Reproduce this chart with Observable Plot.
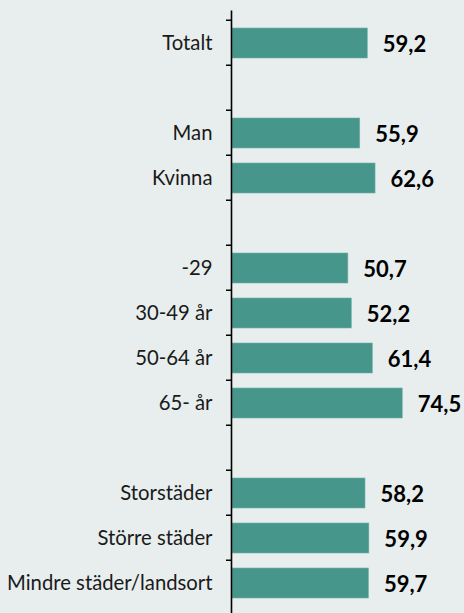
<!DOCTYPE html>
<html>
<head>
<meta charset="utf-8">
<script src="https://cdn.jsdelivr.net/npm/d3@7"></script>
<script src="https://cdn.jsdelivr.net/npm/@observablehq/plot@0.6"></script>
<style>
  html, body { margin: 0; padding: 0; background: #e7eeed; }
  #chart svg { display: block; }
</style>
</head>
<body>
<div id="chart"></div>
<script>
const categories = ["Totalt", "_gap1", "Man", "Kvinna", "_gap2", "-29", "30-49 år", "50-64 år", "65- år", "_gap3", "Storstäder", "Större städer", "Mindre städer/landsort"];
const barCategories = ["Totalt", "Man", "Kvinna", "-29", "30-49 år", "50-64 år", "65- år", "Storstäder", "Större städer", "Mindre städer/landsort"];
const values = [59.2, 55.9, 62.6, 50.7, 52.2, 61.4, 74.5, 58.2, 59.9, 59.7];
const valueLabels = ["59,2", "55,9", "62,6", "50,7", "52,2", "61,4", "74,5", "58,2", "59,9", "59,7"];

const data = barCategories.map((c, i) => ({category: c, value: values[i], label: valueLabels[i]}));

const chartH = 613, yTop = 10.5, yBottom = 615;
const bandStep = (yBottom - yTop) / categories.length;

const chart = Plot.plot({
  width: 464,
  height: chartH,
  marginLeft: 232,
  marginRight: 3.5,
  marginTop: yTop,
  marginBottom: 0,
  style: {background: "#e7eeed", fontFamily: "Lato, sans-serif", color: "#111"},
  x: {domain: [0, 100], axis: null},
  y: {domain: categories, range: [yTop, yBottom], padding: 0.33, axis: null},
  marks: [
    Plot.barX(data, {y: "category", x: "value", fill: "#46968c", stroke: "#72b0a8", strokeWidth: 0.6}),
    Plot.text(data, {y: "category", x: "value", text: "label", dx: 15, dy: 1, textAnchor: "start", fontWeight: "bold", fontSize: 22, fill: "#000"}),
    Plot.axisY({tickSize: 0, tickPadding: 20, fontSize: 20.3, label: null, tickFormat: d => d.startsWith("_gap") ? "" : d, fill: "#1a1a1a"}),
    Plot.axisY({tickSize: 6, label: null, tickFormat: () => "", dy: -bandStep / 2, stroke: "#000", strokeWidth: 1.5}),
    Plot.ruleX([0], {stroke: "#000", strokeWidth: 1.6, dx: -1})
  ]
});
document.getElementById("chart").appendChild(chart);
</script>
</body>
</html>
